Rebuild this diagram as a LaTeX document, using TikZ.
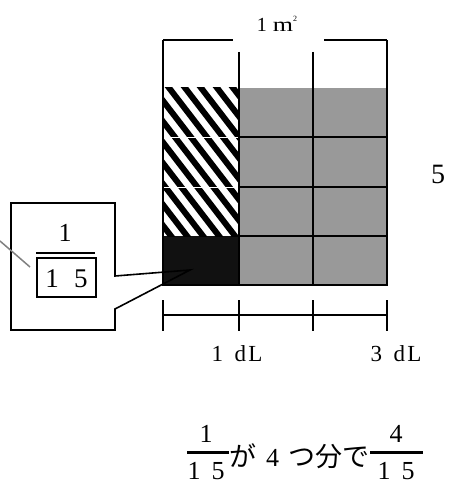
\documentclass[tikz,border=0pt]{standalone}
\usepackage{fontspec}
\setmainfont{Liberation Serif}
\newfontfamily\jpfont{Noto Sans CJK JP}
\usepackage{tikz}
\usetikzlibrary{positioning,calc}
\definecolor{cellgray}{RGB}{153,153,153}
\definecolor{cellblack}{RGB}{17,17,17}
\newcommand{\fw}[2][1.05em]{\makebox[#1]{#2}}
\newcommand{\fs}[1]{\fontsize{#1}{#1}\selectfont}

\begin{document}
\begin{tikzpicture}[x=1pt,y=-1pt,
    frame/.style={line width=1.8pt},
    txt/.style={inner sep=0pt,anchor=base}]
    \useasboundingbox (0,0) rectangle (448,484);

    % Gray cells and the black cell
    \fill[cellgray] (239,88) rectangle (387,285);
    \fill[cellblack] (163,236) rectangle (239,285);

    % Hatched cells (3 of 15)
    \begin{scope}
        \clip (163,88) rectangle (239,236);
        \fill[white] (163,88) rectangle (239,236);
        \foreach \k in {-12,...,5}
            \draw[line width=6pt] (163+\k*16,80) -- ++(130,169);
        \draw[white, line width=0.8pt] (163,137) -- (239,137);
        \draw[white, line width=0.8pt] (163,187) -- (239,187);
    \end{scope}

    % Grid lines
    \foreach \y in {137,187,236}
        \draw[line width=1.2pt] (239,\y) -- (387,\y);
    \draw[frame] (163,40) -- (233,40);
    \draw[frame] (324,40) -- (387,40);
    \draw[frame] (163,40) -- (163,285) -- (387,285) -- (387,40);
    \draw[frame] (239,52) -- (239,285);
    \draw[frame] (313,52) -- (313,285);

    % Scale below
    \draw[frame] (163,315) -- (387,315);
    \foreach \x in {163,239,313,387}
        \draw[frame] (\x,300) -- (\x,331);

    % Labels
    \node[txt] (area) at (277,32) {\fs{20}1\hspace{0.3em}\scalebox{1.3}[1]{m}\raisebox{10pt}{\fs{8}2}};
    \node[txt] (rows) at (438,183) {\fs{28}5};
    \node[txt] (oneDL) at (237,361) {\fs{23}1\hspace{0.5em}d\hspace{0.1em}L};
    \node[txt] (threeDL) at (396,361) {\fs{23}3\hspace{0.5em}d\hspace{0.1em}L};

    % Callout with the unit fraction
    \draw[line width=1.6pt] (11,203) -- (115,203) -- (115,276) -- (190,270)
        -- (115,309) -- (115,330) -- (11,330) -- cycle;
    \node[txt] (cnum) at (65,241) {\fs{26}1};
    \draw[line width=2.6pt] (36,253) -- (95,253);
    \node[draw, line width=2.4pt, minimum width=59pt, minimum height=39pt,
        inner sep=0pt] (cden) at (66.5,277.5) {};
    \node[txt] at (66.5,287) {\fs{27}\fw[29pt]{1}\fw[29pt]{5}};
    \coordinate (lead) at (0,241);
    \draw[gray, line width=1.5pt] (lead) -- (30,267);

    % Sentence below
    \node[txt] (lnum) at (206,442) {\fs{26}1};
    \draw[line width=3pt] (187,452) -- (229,452);
    \node[txt] (lden) at (206,479) {\fs{26}\fw[24pt]{1}\fw[24pt]{5}};
    \node[txt] (say) at (299.5,466) {\fs{27}{\jpfont が}\fw[1.15em]{\fs{26}4}{\jpfont つ分で}};
    \node[txt] (rnum) at (396,442) {\fs{26}4};
    \draw[line width=3pt] (370,452) -- (423,452);
    \node[txt] (rden) at (396,479) {\fs{26}\fw[24pt]{1}\fw[24pt]{5}};
\end{tikzpicture}
\end{document}
